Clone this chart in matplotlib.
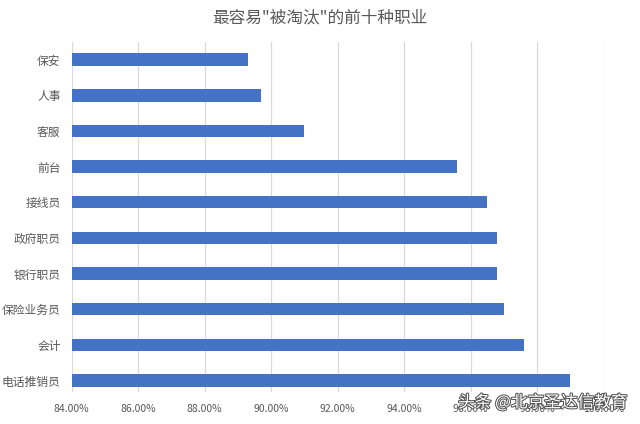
import matplotlib

matplotlib.use("Agg")
import matplotlib.pyplot as plt  # noqa: E402
import matplotlib.patheffects as pe  # noqa: E402
from matplotlib.ticker import FuncFormatter  # noqa: E402

plt.rcParams["font.family"] = ["Noto Sans CJK SC", "DejaVu Sans"]

# top to bottom as shown in the chart
jobs = ["保安", "人事", "客服", "前台", "接线员", "政府职员", "银行职员", "保险业务员", "会计", "电话推销员"]
rates = [89.3, 89.7, 91.0, 95.6, 96.5, 96.8, 96.8, 97.0, 97.6, 99.0]
xticks = [84, 86, 88, 90, 92, 94, 96, 98, 100]

fig = plt.figure(figsize=(6.4, 4.24), dpi=100)
ax = fig.add_axes([0.112, 0.0755, 0.831, 0.826])

ypos = list(range(len(jobs)))[::-1]
ax.barh(ypos, [r - 84 for r in rates], left=84, height=0.35, color="#4472C4", zorder=3)

ax.set_xlim(84, 100)
ax.set_ylim(-0.32, len(jobs) - 0.5)
ax.set_xticks(xticks)
ax.xaxis.set_major_formatter(FuncFormatter(lambda v, _: f"{v:.2f}%"))
ax.set_yticks(ypos)
ax.set_yticklabels(jobs)
ax.grid(axis="x", color="#D9D9D9", linewidth=0.9, zorder=0)
for s in ax.spines.values():
    s.set_visible(False)
ax.tick_params(axis="both", length=0, colors="#595959", labelsize=8.5)
ax.tick_params(axis="x", pad=9, labelsize=7.5)
ax.tick_params(axis="y", pad=8)

fig.text(0.5, 0.957, "最容易\"被淘汰\"的前十种职业", ha="center", va="center",
         fontsize=12, color="#595959")

fig.text(0.98, 0.05, "头条 @北京圣达信教育", ha="right", va="center", fontsize=12,
         color="white",
         path_effects=[pe.withStroke(linewidth=1.5, foreground="#555555")])

fig.savefig("out.png", dpi=100)
plt.close(fig)
